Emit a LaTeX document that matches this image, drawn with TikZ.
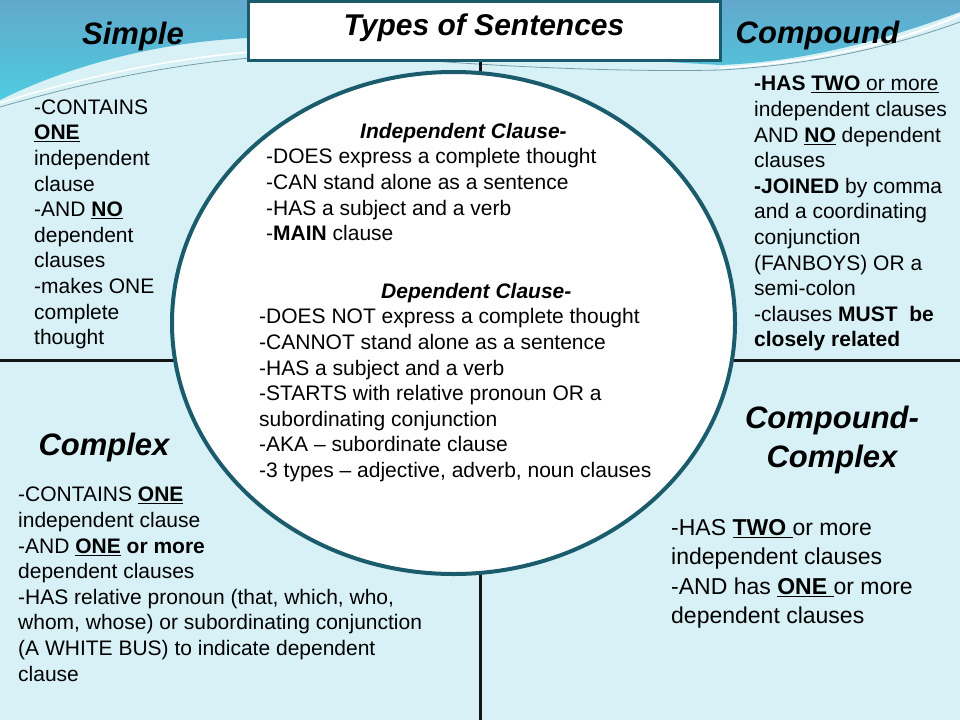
\documentclass[tikz,border=0pt]{standalone}
\usepackage{fontspec}
\setmainfont{Liberation Sans}
\usetikzlibrary{shapes.geometric}

\definecolor{slidebg}{RGB}{216,241,247}
\definecolor{bandtop}{RGB}{98,168,204}
\definecolor{bandlow}{RGB}{78,204,224}
\definecolor{rimteal}{RGB}{27,92,108}
\definecolor{divline}{RGB}{20,20,20}

\tikzset{
	heading/.style={anchor=base, inner sep=0pt, font=\fontsize{31}{39}\selectfont\bfseries\itshape},
	subhead/.style={anchor=base west, inner sep=0pt, font=\fontsize{21}{25.6}\selectfont\bfseries\itshape},
	blocktext/.style={anchor=north west, align=left, inner sep=0pt, font=\fontsize{21}{25.6}\selectfont},
	divider/.style={draw=divline, line width=3pt},
}

\begin{document}
\begin{tikzpicture}[x=1pt, y=-1pt]
		\useasboundingbox (0,0) rectangle (960,720);
		\fill[slidebg] (0,0) rectangle (960,720);
		
		% blue band along the top
		\shade[top color=bandtop, bottom color=bandlow] (0,0) -- (960,0) -- (960,12)
		.. controls (880,42) and (800,62) .. (720,65) -- (250,38)
		.. controls (150,42) and (60,70) .. (0,100) -- cycle;
		\draw[white, line width=1.5pt] (0,103) .. controls (80,78) and (160,60) .. (250,52);
		\draw[rimteal!60, line width=0.8pt] (0,107) .. controls (80,84) and (160,66) .. (250,58);
		\draw[white, line width=2pt] (720,68) .. controls (820,62) and (900,42) .. (960,15);
		\draw[rimteal!60, line width=0.8pt] (420,60) .. controls (520,68) and (640,72) .. (720,70)
		.. controls (830,64) and (910,40) .. (960,22);
		
		% the four quarters
		\coordinate (top) at (480,0);
		\coordinate (bottom) at (480,720);
		\coordinate (leftedge) at (0,360);
		\coordinate (rightedge) at (960,360);
		\draw[divider] (top) -- (bottom);
		\draw[divider] (leftedge) -- (rightedge);
		
		\node[ellipse, draw=rimteal, fill=white, line width=4pt, inner sep=0pt,
			minimum width=563, minimum height=502] (clauses) at (453.5,323) {};
		\node[draw=rimteal, fill=white, line width=3pt, inner sep=0pt,
			minimum width=472, minimum height=59, text height=21, text depth=11,
			font=\fontsize{30}{36}\selectfont\bfseries\itshape] (title) at (484,30.5) {Types of Sentences};
		
		\node[heading] (simple) at (133,44) {Simple};
		\node[heading] (compound) at (817.5,43.3) {Compound};
		\node[heading] (complex) at (104,455) {Complex};
		\node[heading, anchor=north, align=center] (compcomplex) at (832,400.7) {\strut Compound-\\Complex};
		
		% simple
		\node[blocktext] (simplelist) at (34,96.1) {\strut-CONTAINS\\
			\underline{\textbf{ONE}}\\
			independent\\
			clause\\
			-AND \underline{\textbf{NO}}\\
			dependent\\
			clauses\\
			-makes ONE\\
			complete\\
			thought};
		
		% compound
		\node[blocktext] (compoundlist) at (754,72.8) {\strut\textbf{-HAS} \underline{\textbf{TWO} or more}\\
			independent clauses\\
			AND \underline{\textbf{NO}} dependent\\
			clauses\\
			\textbf{-JOINED} by comma\\
			and a coordinating\\
			conjunction\\
			(FANBOYS) OR a\\
			semi-colon\\
			-clauses \textbf{MUST\ \ be}\\
			\textbf{closely related}};
		
		% inside the circle
		\node[subhead] (indephead) at (360,138) {Independent Clause-};
		\node[blocktext] (indeplist) at (266,145.7) {\strut-DOES express a complete thought\\
			-CAN stand alone as a sentence\\
			-HAS a subject and a verb\\
			-\textbf{MAIN} clause};
		\node[subhead] (dephead) at (381,298) {Dependent Clause-};
		\node[blocktext] (deplist) at (259,305.7) {\strut-DOES NOT express a complete thought\\
			-CANNOT stand alone as a sentence\\
			-HAS a subject and a verb\\
			-STARTS with relative pronoun OR a\\
			subordinating conjunction\\
			-AKA -- subordinate clause\\
			-3 types -- adjective, adverb, noun clauses};
		
		% complex
		\node[blocktext] (complexlist) at (18,483.8) {\strut-CONTAINS \underline{\textbf{ONE}}\\
			independent clause\\
			-AND \underline{\textbf{ONE}} \textbf{or more}\\
			dependent clauses\\
			-HAS relative pronoun (that, which, who,\\
			whom, whose) or subordinating conjunction\\
			(A WHITE BUS) to indicate dependent\\
			clause};
		
		% compound-complex
		\node[blocktext, font=\fontsize{23}{29.1}\selectfont] (cclist) at (671,515.3) {\strut-HAS \underline{\textbf{TWO}\ }or more\\
			independent clauses\\
			-AND has \underline{\textbf{ONE}\ }or more\\
			dependent clauses};
	\end{tikzpicture}
\end{document}
